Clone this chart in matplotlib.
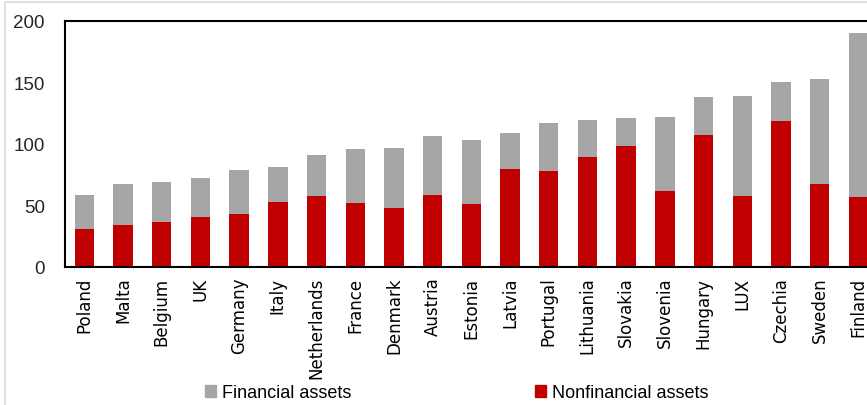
import matplotlib.pyplot as plt
from matplotlib.patches import Rectangle, Patch

countries = ['Poland', 'Malta', 'Belgium', 'UK', 'Germany', 'Italy', 'Netherlands',
             'France', 'Denmark', 'Austria', 'Estonia', 'Latvia', 'Portugal',
             'Lithuania', 'Slovakia', 'Slovenia', 'Hungary', 'LUX', 'Czechia',
             'Sweden', 'Finland']
nonfinancial = [31.2, 33.9, 36.3, 40.4, 43.1, 52.6, 58.0, 51.8, 48.2, 58.8, 51.0,
                79.4, 78.0, 89.4, 98.6, 61.5, 107.1, 58.0, 118.4, 67.2, 56.7]
totals = [58.8, 67.2, 69.4, 72.1, 78.6, 81.3, 90.8, 96.2, 97.0, 106.2, 103.3,
          109.2, 116.8, 119.8, 121.1, 122.0, 138.0, 138.8, 150.2, 152.8, 190.0]
financial = [t - n for t, n in zip(totals, nonfinancial)]

red = '#C00000'
gray = '#A6A6A6'

W, H = 867, 406
fig = plt.figure(figsize=(W / 100, H / 100), dpi=100)
fig.patch.set_facecolor('white')

# light chart-area border (continues past the crop)
fig.patches.append(Rectangle((5 / W, -0.1), 1.2, (H - 3) / H + 0.1, transform=fig.transFigure,
                             fill=False, edgecolor='#d9d9d9', lw=1.2))

ax = fig.add_axes([65 / W, 138 / H, 21 * 38.7 / W, 246 / H])
x = range(len(countries))
ax.bar(x, nonfinancial, width=0.5, color=red, zorder=2)
ax.bar(x, financial, width=0.5, bottom=nonfinancial, color=gray, zorder=2)

ax.set_xlim(-0.5, len(countries) - 0.5)
ax.set_ylim(0, 200)
ax.set_yticks([0, 50, 100, 150, 200])
ax.set_xticks(list(x))
ax.set_xticklabels(countries, rotation=90, fontsize=12, family='DejaVu Sans', color='black')
ax.tick_params(axis='x', length=0, pad=7)
ax.tick_params(axis='y', length=0, pad=14.4, labelsize=13.5, labelcolor='#262626')
for lab in ax.get_yticklabels():
    lab.set_family('Liberation Sans')
for s in ax.spines.values():
    s.set_color('black')
    s.set_linewidth(1.5)

leg_font = {'family': 'Liberation Sans', 'size': 13}
l1 = fig.legend(handles=[Patch(color=gray, label='Financial assets')],
                loc='center left', bbox_to_anchor=(189 / W, 1 - 394 / H), frameon=False,
                prop=leg_font, handlelength=0.6, handleheight=0.6, handletextpad=0.3)
l2 = fig.legend(handles=[Patch(color=red, label='Nonfinancial assets')],
                loc='center left', bbox_to_anchor=(519 / W, 1 - 394 / H), frameon=False,
                prop=leg_font, handlelength=0.6, handleheight=0.6, handletextpad=0.3)

fig.savefig('out.png', dpi=100, facecolor='white')
